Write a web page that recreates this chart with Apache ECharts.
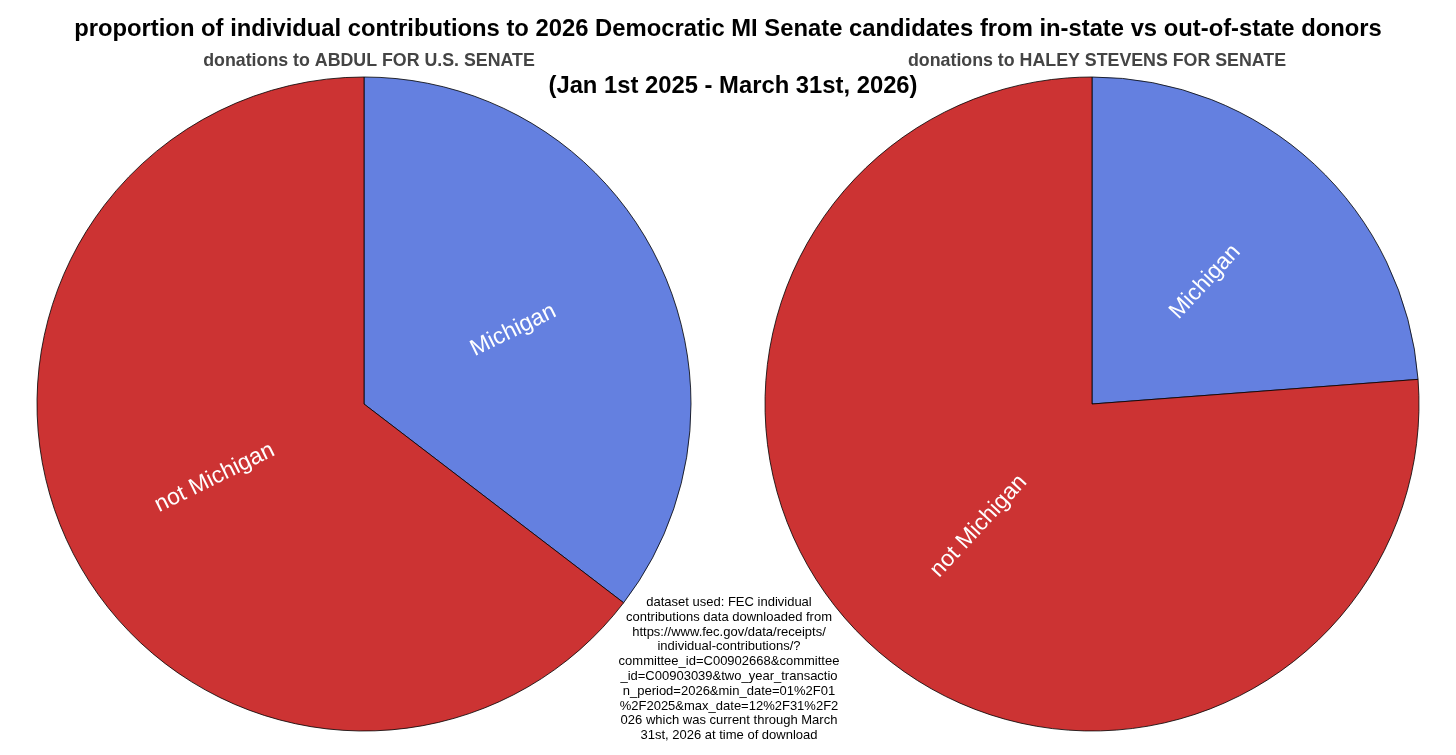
<!DOCTYPE html>
<html>
<head>
<meta charset="utf-8">
<script src="https://cdn.jsdelivr.net/npm/echarts@6/dist/echarts.min.js"></script>
<style>
  html, body { margin: 0; padding: 0; background: #fff; }
  #chart { width: 1456px; height: 755px; }
</style>
</head>
<body>
<div id="chart"></div>
<script>
// slice names and share of donations (percent)
const categories = ["Michigan", "not Michigan"];
const abdulValues = [35.4, 64.6];
const stevensValues = [23.8, 76.2];
const sliceColors = ["#6480e0", "#cc3333"];

const mainTitle = "proportion of individual contributions to 2026 Democratic MI Senate candidates from in-state vs out-of-state donors";
const dateTitle = "(Jan 1st 2025 - March 31st, 2026)";
const leftTitle = "donations to ABDUL FOR U.S. SENATE";
const rightTitle = "donations to HALEY STEVENS FOR SENATE";
const footnoteLines = [
  "dataset used: FEC individual",
  "contributions data downloaded from",
  "https://www.fec.gov/data/receipts/",
  "individual-contributions/?",
  "committee_id=C00902668&committee",
  "_id=C00903039&two_year_transactio",
  "n_period=2026&min_date=01%2F01",
  "%2F2025&max_date=12%2F31%2F2",
  "026 which was current through March",
  "31st, 2026 at time of download"
];

const sans = "'Liberation Sans', Arial, sans-serif";

function pieSeries(name, values, cx) {
  return {
    name: name,
    type: "pie",
    center: [cx, 404],
    radius: [0, 327],
    startAngle: 90,
    clockwise: true,
    animation: false,
    silent: true,
    itemStyle: { borderColor: "#000", borderWidth: 0.8 },
    label: {
      show: true,
      position: "inside",
      rotate: "radial",
      color: "#fff",
      fontSize: 23,
      fontFamily: sans,
      formatter: "{b}"
    },
    labelLine: { show: false },
    data: categories.map((c, i) => ({
      name: c,
      value: values[i],
      itemStyle: { color: sliceColors[i] }
    }))
  };
}

const chart = echarts.init(document.getElementById("chart"));
chart.setOption({
  backgroundColor: "#fff",
  title: [
    {
      text: mainTitle, left: "center", top: 12,
      textStyle: { fontFamily: sans, fontWeight: "bold", fontSize: 23.8, color: "#000" }
    },
    {
      text: leftTitle, left: 364, top: 47, textAlign: "center",
      textStyle: { fontFamily: sans, fontWeight: "bold", fontSize: 17.8, color: "#444" }
    },
    {
      text: rightTitle, left: 1092, top: 47, textAlign: "center",
      textStyle: { fontFamily: sans, fontWeight: "bold", fontSize: 17.8, color: "#444" }
    },
    {
      text: dateTitle, left: 728, top: 69, textAlign: "center",
      textStyle: { fontFamily: sans, fontWeight: "bold", fontSize: 23.8, color: "#000" }
    }
  ],
  graphic: [
    {
      type: "text",
      x: 729,
      y: 595,
      style: {
        text: footnoteLines.join("\n"),
        fontSize: 13,
        lineHeight: 14.8,
        fontFamily: sans,
        fill: "#000",
        align: "center",
        verticalAlign: "top"
      }
    }
  ],
  series: [
    pieSeries("abdul", abdulValues, 364),
    pieSeries("stevens", stevensValues, 1092)
  ]
});
</script>
</body>
</html>
